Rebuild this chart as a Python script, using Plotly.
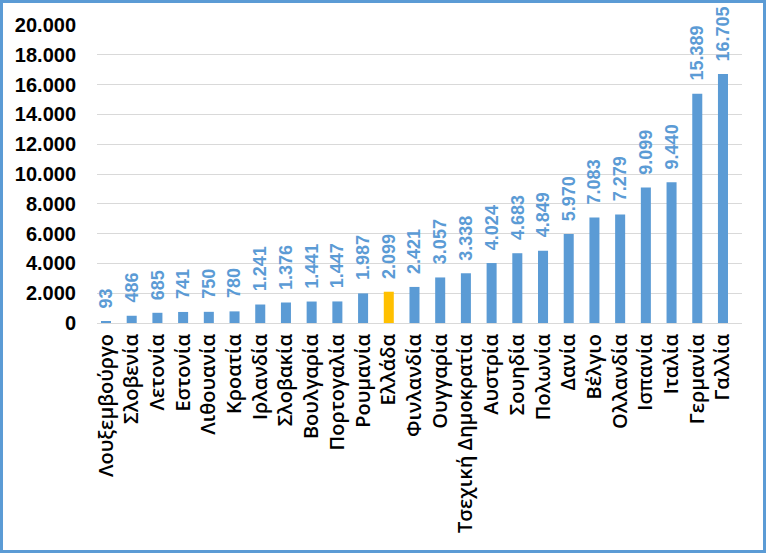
import plotly.graph_objects as go

countries = ["Λουξεμβούργο", "Σλοβενία", "Λετονία", "Εστονία", "Λιθουανία", "Κροατία",
             "Ιρλανδία", "Σλοβακία", "Βουλγαρία", "Πορτογαλία", "Ρουμανία", "Ελλάδα",
             "Φινλανδία", "Ουγγαρία", "Τσεχική Δημοκρατία", "Αυστρία", "Σουηδία", "Πολωνία",
             "Δανία", "Βέλγιο", "Ολλανδία", "Ισπανία", "Ιταλία", "Γερμανία", "Γαλλία"]
values = [93, 486, 685, 741, 750, 780, 1241, 1376, 1441, 1447, 1987, 2099, 2421, 3057,
          3338, 4024, 4683, 4849, 5970, 7083, 7279, 9099, 9440, 15389, 16705]
highlight = "Ελλάδα"
ytick_vals = list(range(0, 20001, 2000))

BLUE = "#5B9BD5"
GOLD = "#FFC000"
W, H = 766, 553
ML, MR, MT, MB = 97, 24, 25, 230

def fmt(v):
    return f"{v:,}".replace(",", ".")

colors = [GOLD if c == highlight else BLUE for c in countries]

fig = go.Figure()
fig.add_trace(go.Bar(x=countries, y=values, marker=dict(color=colors, line=dict(width=0)),
                     width=0.39, hoverinfo="skip"))

for c, v in zip(countries, values):
    fig.add_annotation(x=c, y=v, text=fmt(v), textangle=-90, showarrow=False,
                       xanchor="center", yanchor="bottom", yshift=11,
                       font=dict(family="Liberation Sans, Arial", size=18, color=BLUE, weight="bold"))

pw = W - ML - MR
ph = H - MT - MB
fig.add_shape(type="rect", xref="paper", yref="paper",
              x0=(1.5 - ML) / pw, x1=(W - 1.5 - ML) / pw,
              y0=-(MB - 1.5) / ph, y1=1 + (MT - 1.5) / ph,
              line=dict(color=BLUE, width=3), fillcolor="rgba(0,0,0,0)")

fig.update_layout(
    width=W, height=H,
    margin=dict(l=ML, r=MR, t=MT, b=MB, autoexpand=False),
    paper_bgcolor="white", plot_bgcolor="white",
    showlegend=False,
    separators=",.",
    xaxis=dict(type="category", range=[-0.35, 24.74], tickangle=-90,
               tickfont=dict(family="Open Sans, Noto Sans", size=20, color="black", weight=600),
               showline=True, linecolor="#D9D9D9", linewidth=1, ticks="",
               showgrid=False, ticklabelstandoff=2),
    yaxis=dict(range=[0, 20000], tickvals=ytick_vals, ticktext=[fmt(v) for v in ytick_vals],
               tickfont=dict(family="Liberation Sans, Arial", size=20, color="black", weight="bold"),
               showgrid=True, gridcolor="#D9D9D9", gridwidth=1, zeroline=False,
               ticks="", ticklabelstandoff=20),
)

fig.write_html("out.html")
